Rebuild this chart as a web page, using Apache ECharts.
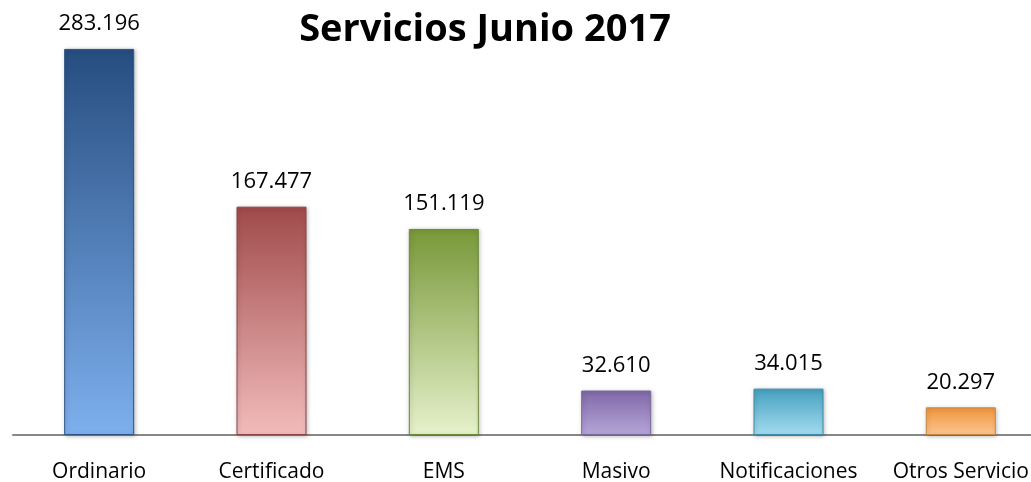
<!DOCTYPE html>
<html>
<head>
<meta charset="utf-8">
<script src="https://cdn.jsdelivr.net/npm/echarts@6/dist/echarts.min.js"></script>
<style>
  html, body { margin: 0; padding: 0; background: #fff; }
  #chart { width: 1031px; height: 482px; }
</style>
</head>
<body>
<div id="chart"></div>
<script>
// datos del grafico
const categories = ['Ordinario', 'Certificado', 'EMS', 'Masivo', 'Notificaciones', 'Otros Servicio'];
const values = [283196, 167477, 151119, 32610, 34015, 20297];

// colores (arriba oscuro -> abajo claro)
const topColors = ['#264d80', '#a04a4a', '#789838', '#8068a8', '#45a0c0', '#f0953c'];
const bottomColors = ['#7eb0ee', '#f2bcbc', '#e6f2cc', '#b6a6d8', '#a4dcee', '#fcc690'];
const edgeColors = ['#2e5582', '#8c4444', '#6e8a3a', '#7a6a9a', '#3f8aa6', '#c98840'];

function fmt(v) {
  return String(v).replace(/\B(?=(\d{3})+(?!\d))/g, '.');
}

const chart = echarts.init(document.getElementById('chart'));

chart.setOption({
  backgroundColor: '#ffffff',
  animation: false,
  title: {
    text: 'Servicios Junio 2017',
    left: 480,
    top: 6,
    textAlign: 'center',
    textStyle: {
      fontFamily: 'Open Sans',
      fontWeight: 'bold',
      fontSize: 38,
      color: '#000'
    }
  },
  grid: {
    left: 13,
    right: -16,
    top: 26,
    bottom: 47,
    containLabel: false,
    outerBoundsMode: 'none'
  },
  xAxis: {
    type: 'category',
    data: categories,
    axisLine: { lineStyle: { color: '#878787', width: 2 } },
    axisTick: { show: false },
    axisLabel: {
      fontFamily: 'Open Sans',
      fontSize: 21,
      color: '#000',
      margin: 27,
      interval: 0
    }
  },
  yAxis: {
    type: 'value',
    min: 0,
    max: 300000,
    show: false,
    splitLine: { show: false }
  },
  series: [{
    type: 'bar',
    barWidth: 70,
    label: {
      show: true,
      position: 'top',
      distance: 14,
      fontFamily: 'Open Sans',
      fontSize: 22,
      color: '#000',
      formatter: (p) => fmt(p.value)
    },
    data: values.map((v, i) => ({
      value: v,
      itemStyle: {
        color: new echarts.graphic.LinearGradient(0, 0, 0, 1, [
          { offset: 0, color: topColors[i] },
          { offset: 1, color: bottomColors[i] }
        ]),
        borderColor: edgeColors[i],
        borderWidth: 1,
        shadowColor: 'rgba(0,0,0,0.25)',
        shadowBlur: 4,
        shadowOffsetX: 1,
        shadowOffsetY: 1
      }
    }))
  }]
});
</script>
</body>
</html>
